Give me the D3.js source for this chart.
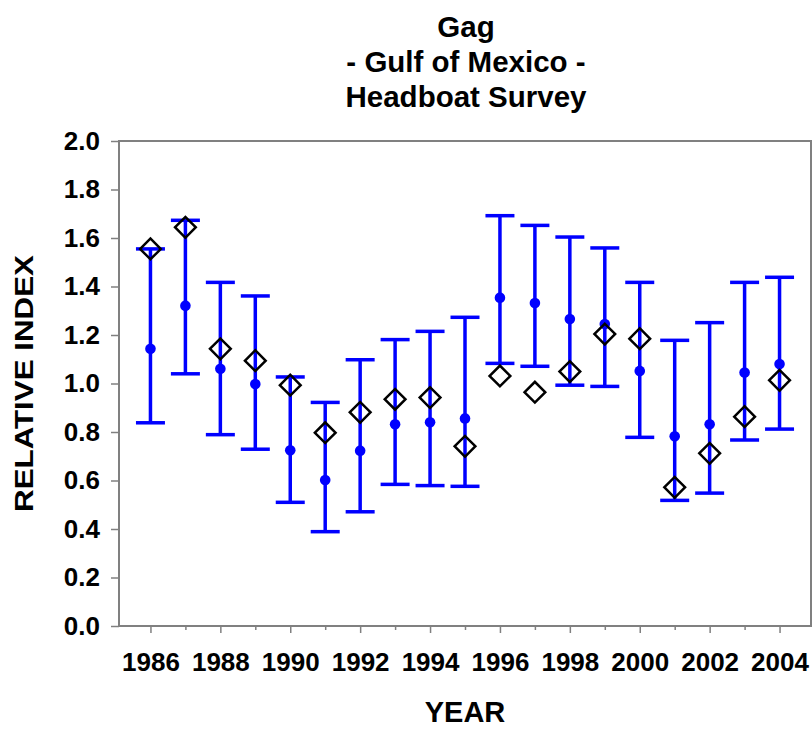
<!DOCTYPE html>
<html>
<head>
<meta charset="utf-8">
<script src="https://cdn.jsdelivr.net/npm/d3@7"></script>
<style>
  html, body { margin: 0; padding: 0; background: #fff; }
  svg { display: block; }
  text { font-family: Arial, "Liberation Sans", sans-serif; font-weight: bold; fill: #000; }
</style>
</head>
<body>
<div id="chart"></div>
<script>
// Gag, Gulf of Mexico headboat survey: relative index by year
const years = [1986, 1987, 1988, 1989, 1990, 1991, 1992, 1993, 1994, 1995,
               1996, 1997, 1998, 1999, 2000, 2001, 2002, 2003, 2004];
// nominal index (blue dots)
const nominal = [1.143, 1.321, 1.061, 0.998, 0.725, 0.602, 0.723, 0.832, 0.840, 0.856,
                 1.354, 1.332, 1.266, 1.245, 1.052, 0.782, 0.832, 1.045, 1.080];
// lower and upper confidence limits (blue whiskers)
const lowerCI = [0.838, 1.040, 0.789, 0.729, 0.510, 0.389, 0.471, 0.584, 0.579, 0.576,
                 1.083, 1.071, 0.993, 0.988, 0.778, 0.518, 0.548, 0.767, 0.812];
const upperCI = [1.555, 1.673, 1.417, 1.361, 1.027, 0.922, 1.098, 1.181, 1.215, 1.273,
                 1.692, 1.652, 1.604, 1.559, 1.417, 1.178, 1.251, 1.417, 1.438];
// standardized index (open diamonds)
const standardized = [1.555, 1.644, 1.143, 1.094, 0.993, 0.797, 0.881, 0.935, 0.942, 0.741,
                      1.031, 0.964, 1.049, 1.204, 1.185, 0.572, 0.712, 0.863, 1.013];
const yTicks = [0, 0.2, 0.4, 0.6, 0.8, 1.0, 1.2, 1.4, 1.6, 1.8, 2.0];
const titleLines = ["Gag", "- Gulf of Mexico -", "Headboat Survey"];

const W = 812, H = 729;
const plot = { left: 119, right: 811, top: 141, bottom: 626 };

const svg = d3.select("#chart").append("svg")
  .attr("width", W).attr("height", H);

const x = d3.scaleLinear().domain([1985.1, 2004.9]).range([plot.left, plot.right]);
const y = d3.scaleLinear().domain([0, 2]).range([plot.bottom, plot.top]);

const data = years.map((yr, i) => ({
  year: yr, nom: nominal[i], lo: lowerCI[i], hi: upperCI[i], std: standardized[i]
}));

// title
svg.append("g").selectAll("text").data(titleLines).join("text")
  .attr("x", 466)
  .attr("y", (d, i) => 37 + i * 35)
  .attr("text-anchor", "middle")
  .style("font-size", "29.5px")
  .text(d => d);

// y axis
const yAxis = svg.append("g")
  .attr("transform", `translate(${plot.left},0)`)
  .call(d3.axisLeft(y).tickValues(yTicks).tickFormat(d3.format(".1f"))
    .tickSize(8).tickSizeOuter(0).tickPadding(11));
yAxis.select(".domain").remove();
yAxis.selectAll(".tick line").attr("stroke", "#808080").attr("stroke-width", 1.5);
yAxis.selectAll(".tick text").style("font-size", "26px")
  .style("font-family", "Arial, 'Liberation Sans', sans-serif").style("font-weight", "bold")
  .attr("fill", "#000");

// x axis: ticks every year, labels on even years
const xAxis = svg.append("g")
  .attr("transform", `translate(0,${plot.bottom})`)
  .call(d3.axisBottom(x).tickValues(years)
    .tickFormat(d => d % 2 === 0 ? String(d) : "")
    .tickSize(7).tickSizeOuter(0).tickPadding(20));
xAxis.select(".domain").remove();
xAxis.selectAll(".tick line").attr("stroke", "#808080").attr("stroke-width", 1.5)
  .attr("y2", d => d % 2 === 0 ? 7 : 4);
xAxis.selectAll(".tick text").style("font-size", "26px")
  .style("font-family", "Arial, 'Liberation Sans', sans-serif").style("font-weight", "bold")
  .attr("fill", "#000");

// plot frame
svg.append("rect")
  .attr("x", plot.left).attr("y", plot.top)
  .attr("width", plot.right - plot.left).attr("height", plot.bottom - plot.top)
  .attr("fill", "none").attr("stroke", "#808080").attr("stroke-width", 2);

// axis titles
svg.append("text")
  .attr("transform", `translate(33,${(plot.top + plot.bottom) / 2}) rotate(-90) scale(1.08,0.9)`)
  .attr("text-anchor", "middle")
  .style("font-size", "29px")
  .text("RELATIVE INDEX");
svg.append("text")
  .attr("x", 465).attr("y", 722)
  .attr("text-anchor", "middle")
  .style("font-size", "29px")
  .text("YEAR");

const blue = "#0000ff";
const capHalf = 14.5;
const bars = svg.append("g");

// whiskers
bars.selectAll("line.whisker").data(data).join("line")
  .attr("class", "whisker")
  .attr("x1", d => x(d.year)).attr("x2", d => x(d.year))
  .attr("y1", d => y(d.lo)).attr("y2", d => y(d.hi))
  .attr("stroke", blue).attr("stroke-width", 3.5);
bars.selectAll("line.cap-hi").data(data).join("line")
  .attr("class", "cap-hi")
  .attr("x1", d => x(d.year) - capHalf).attr("x2", d => x(d.year) + capHalf)
  .attr("y1", d => y(d.hi)).attr("y2", d => y(d.hi))
  .attr("stroke", blue).attr("stroke-width", 3.5);
bars.selectAll("line.cap-lo").data(data).join("line")
  .attr("class", "cap-lo")
  .attr("x1", d => x(d.year) - capHalf).attr("x2", d => x(d.year) + capHalf)
  .attr("y1", d => y(d.lo)).attr("y2", d => y(d.lo))
  .attr("stroke", blue).attr("stroke-width", 3.5);

// nominal points
svg.append("g").selectAll("circle").data(data).join("circle")
  .attr("cx", d => x(d.year)).attr("cy", d => y(d.nom))
  .attr("r", 5.3).attr("fill", blue);

// standardized points as open diamonds
const diamond = d3.symbol().type(d3.symbolSquare).size(215);
svg.append("g").selectAll("path").data(data).join("path")
  .attr("d", diamond)
  .attr("transform", d => `translate(${x(d.year)},${y(d.std)}) rotate(45)`)
  .attr("fill", "none").attr("stroke", "#000").attr("stroke-width", 2.5);
</script>
</body>
</html>
